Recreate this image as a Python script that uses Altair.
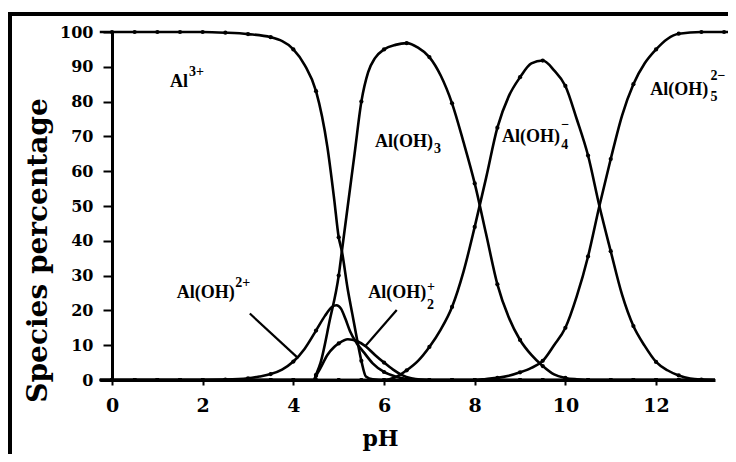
import altair as alt
import pandas as pd

# ---- values (pH, species percentage) ----
ph_al3 = [-0.27, 0, 0.5, 1, 1.5, 2, 2.5, 3, 3.5, 4, 4.25, 4.5, 4.75, 4.9, 5.0, 5.07, 5.2, 5.3, 5.4, 5.5,
          5.6, 5.75, 6.0, 6.5, 7, 7.5, 8, 8.5, 9, 9.5, 10, 10.5, 11, 11.5, 12, 12.5, 13, 13.3]
pct_al3 = [100, 100, 100, 100, 100, 100, 99.8, 99.4, 98.5, 95, 90.5, 83, 67, 52, 41, 37, 26, 19, 12, 5.5,
           1, 0.2, 0, 0, 0, 0, 0, 0, 0, 0, 0, 0, 0, 0, 0, 0, 0, 0]

ph_aloh = [-0.27, 0, 0.5, 1, 1.5, 2, 2.5, 3, 3.25, 3.5, 3.75, 4, 4.25, 4.5, 4.7, 4.85, 4.95, 5.05, 5.15, 5.25,
           5.4, 5.55, 5.75, 6, 6.25, 6.5, 7, 7.5, 8, 8.5, 9, 9.5, 10, 10.5, 11, 11.5, 12, 12.5, 13, 13.3]
pct_aloh = [0, 0, 0, 0, 0, 0, 0.1, 0.5, 1, 1.7, 3, 5.3, 9, 14.2, 18.5, 21, 21.5, 20.5, 17.5, 14,
            10.5, 8, 4.8, 2.3, 1, 0.3, 0, 0, 0, 0, 0, 0, 0, 0, 0, 0, 0, 0, 0, 0]

ph_aloh2 = [-0.27, 0, 0.5, 1, 1.5, 2, 2.5, 3, 3.5, 4, 4.45, 4.5, 4.6, 4.75, 4.9, 5.0, 5.2, 5.4, 5.6, 5.8,
            6.0, 6.2, 6.4, 6.6, 6.8, 7, 7.5, 8, 8.5, 9, 9.5, 10, 10.5, 11, 11.5, 12, 12.5, 13, 13.3]
pct_aloh2 = [0, 0, 0, 0, 0, 0, 0, 0, 0, 0, 0, 1.2, 3.5, 7.2, 9.5, 10.5, 11.7, 11.2, 9.6, 7.2,
             5, 3, 1.4, 0.5, 0.1, 0, 0, 0, 0, 0, 0, 0, 0, 0, 0, 0, 0, 0, 0]

ph_aloh3 = [-0.27, 0, 0.5, 1, 1.5, 2, 2.5, 3, 3.5, 4, 4.45, 4.5, 4.6, 4.8, 5.0, 5.07, 5.2, 5.35, 5.5, 5.65,
            5.8, 6.0, 6.25, 6.5, 6.75, 7, 7.25, 7.5, 7.75, 8, 8.25, 8.5, 8.75, 9, 9.25, 9.5, 9.75, 10, 10.25, 10.5,
            11, 11.5, 12, 12.5, 13, 13.3]
pct_aloh3 = [0, 0, 0, 0, 0, 0, 0, 0, 0, 0, 0, 1.5, 5, 17, 30, 37, 50, 65, 80, 88.5,
             92.5, 95, 96.3, 96.8, 95.5, 92.8, 87.5, 79.5, 68.5, 56.5, 42, 27.5, 18, 11.5, 7.2, 4, 1.6, 0.6, 0.2, 0,
             0, 0, 0, 0, 0, 0]

ph_aloh4 = [-0.27, 0, 0.5, 1, 1.5, 2, 2.5, 3, 3.5, 4, 4.5, 5, 5.5, 6, 6.25, 6.5, 6.75, 7, 7.25, 7.5,
            7.75, 8, 8.25, 8.5, 8.75, 9, 9.25, 9.5, 9.75, 10, 10.25, 10.5, 10.75, 11, 11.25, 11.5, 11.75, 12, 12.25, 12.5,
            12.75, 13, 13.3]
pct_aloh4 = [0, 0, 0, 0, 0, 0, 0, 0, 0, 0, 0, 0, 0, 0, 0.8, 2.8, 5.5, 9.5, 14.5, 21,
             31, 44, 58, 72.5, 81.5, 87, 91, 91.8, 89, 84.5, 75, 64.5, 50, 37, 24.5, 15.5, 9.8, 5.2, 2.8, 1.3,
             0.4, 0.1, 0]

ph_aloh5 = [-0.27, 0, 0.5, 1, 1.5, 2, 2.5, 3, 3.5, 4, 4.5, 5, 5.5, 6, 6.5, 7, 7.5, 8, 8.25, 8.5,
            8.75, 9, 9.25, 9.5, 9.75, 10, 10.25, 10.5, 10.75, 11, 11.25, 11.5, 11.75, 12, 12.25, 12.5, 13, 13.3, 13.5, 13.75]
pct_aloh5 = [0, 0, 0, 0, 0, 0, 0, 0, 0, 0, 0, 0, 0, 0, 0, 0, 0, 0, 0.3, 0.6,
             1.2, 2.2, 3.5, 5.5, 10, 15, 24, 35.5, 50, 63.5, 76, 85, 91, 95, 98, 99.5, 100, 100, 100, 100]

# ---- species labels ----
base_text = ["Al", "Al(OH)", "Al(OH)", "Al(OH)", "Al(OH)", "Al(OH)"]
base_ph = [1.28, 5.80, 8.60, 11.87, 1.43, 5.65]
base_pct = [84.1, 66.9, 68.3, 81.8, 23.5, 23.5]

small_text = ["3+", "3", "4", "\u2212", "5", "2\u2212", "2+", "2", "+"]
small_ph = [1.70, 7.10, 9.91, 9.91, 13.20, 13.20, 2.72, 6.95, 6.95]
small_pct = [87.3, 65.3, 66.4, 72.1, 80.2, 86.1, 26.7, 20.5, 25.6]

# ---- pointer lines from labels to curves ----
ptr_ph = [3.04, 6.28]
ptr_ph2 = [4.11, 5.58]
ptr_pct = [19.1, 20.1]
ptr_pct2 = [6.2, 9.6]


def table(name, ph, pct):
    assert len(ph) == len(pct), name
    return pd.DataFrame({"species": name, "ph": ph, "pct": pct})


curves = pd.concat([
    table("Al3+", ph_al3, pct_al3),
    table("Al(OH)2+", ph_aloh, pct_aloh),
    table("Al(OH)2 +", ph_aloh2, pct_aloh2),
    table("Al(OH)3", ph_aloh3, pct_aloh3),
    table("Al(OH)4-", ph_aloh4, pct_aloh4),
    table("Al(OH)5 2-", ph_aloh5, pct_aloh5),
], ignore_index=True)

base_df = pd.DataFrame({"label": base_text, "ph": base_ph, "pct": base_pct})
small_df = pd.DataFrame({"label": small_text, "ph": small_ph, "pct": small_pct})
ptr_df = pd.DataFrame({"ph": ptr_ph, "ph2": ptr_ph2, "pct": ptr_pct, "pct2": ptr_pct2})

xscale = alt.Scale(domain=[-0.265, 13.3], nice=False, zero=False)
yscale = alt.Scale(domain=[0, 100], nice=False, zero=False)

x_axis = alt.Axis(values=[0, 2, 4, 6, 8, 10, 12], format="d", title="pH", grid=False,
                  domainColor="black", domainWidth=3, tickColor="black", tickWidth=2, tickSize=5,
                  labelPadding=11, labelFont="DejaVu Serif", labelFontWeight="bold", labelFontSize=19,
                  labelColor="black", labelFlush=False, labelOverlap=False,
                  titleFont="DejaVu Serif", titleFontWeight="bold", titleFontSize=22, titleColor="black",
                  titleX=280, titleY=65, titleAlign="center", titleBaseline="alphabetic")

y_axis = alt.Axis(values=list(range(0, 101, 10)), format="d", title="Species percentage", grid=False,
                  offset=-12, domainColor="black", domainWidth=3, tickColor="black", tickWidth=2, tickSize=9,
                  labelPadding=10, labelFont="DejaVu Serif", labelFontWeight="bold", labelFontSize=16,
                  labelColor="black", labelFlush=False, labelOverlap=False,
                  titleFont="DejaVu Serif", titleFontWeight="bold", titleFontSize=28, titleColor="black",
                  titleAngle=270, titleX=-66, titleY=218, titleAlign="center", titleBaseline="alphabetic")

X = alt.X("ph:Q", scale=xscale, axis=x_axis)
Y = alt.Y("pct:Q", scale=yscale, axis=y_axis)

lines = alt.Chart(curves).mark_line(color="black", strokeWidth=2.6, interpolate="monotone").encode(
    x=X, y=Y, detail="species:N")

dots = alt.Chart(curves).transform_filter(
    "abs(datum.ph * 2 - round(datum.ph * 2)) < 0.001"
).mark_circle(color="black", size=18, opacity=1).encode(x=X, y=Y, detail="species:N")

pointers = alt.Chart(ptr_df).mark_rule(color="black", strokeWidth=2.2).encode(
    x=X, x2="ph2:Q", y=Y, y2="pct2:Q")

base_labels = alt.Chart(base_df).mark_text(
    font="Liberation Serif", fontWeight="bold", fontSize=18, align="left", baseline="alphabetic",
    color="black").encode(x=X, y=Y, text="label:N")

small_labels = alt.Chart(small_df).mark_text(
    font="Liberation Serif", fontWeight="bold", fontSize=14, align="left", baseline="alphabetic",
    color="black").encode(x=X, y=Y, text="label:N")

one = pd.DataFrame({"k": [0]})
frame_left = alt.Chart(one).mark_rule(color="black", strokeWidth=4).encode(
    x=alt.value(-90), y=alt.value(-20), y2=alt.value(470))
frame_top = alt.Chart(one).mark_rule(color="black", strokeWidth=4).encode(
    x=alt.value(-92), x2=alt.value(700), y=alt.value(-18))

chart = alt.layer(
    frame_left, frame_top, lines, dots, pointers, base_labels, small_labels
).properties(
    width=615, height=348,
    padding={"left": 92, "top": 24, "right": 13, "bottom": 74},
    autosize=alt.AutoSizeParams(type="none"),
    background="white",
).configure_view(stroke="transparent")

chart.save("out.html", embed_options={"renderer": "svg", "actions": False})
